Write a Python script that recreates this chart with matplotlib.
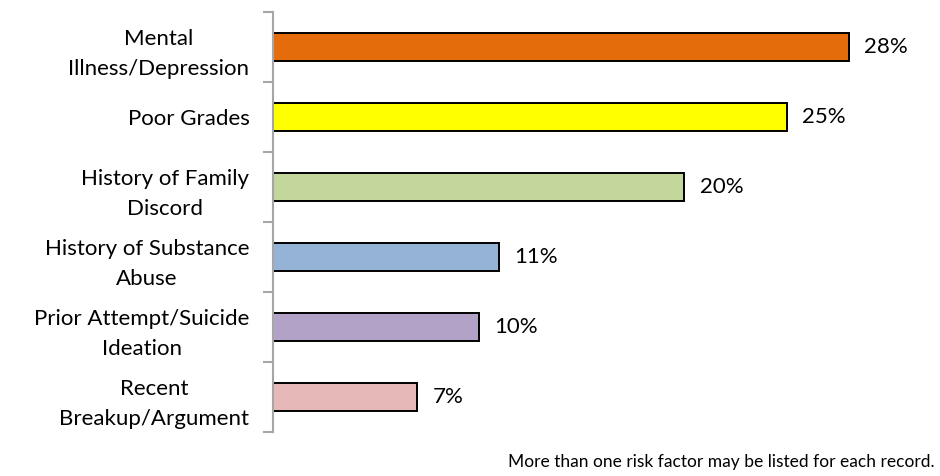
import matplotlib
matplotlib.use("Agg")
import matplotlib.pyplot as plt
from matplotlib.ticker import FixedLocator

plt.rcParams["font.family"] = ["Lato", "DejaVu Sans"]

categories = [
    "Mental\nIllness/Depression",
    "Poor Grades",
    "History of Family\nDiscord",
    "History of Substance\nAbuse",
    "Prior Attempt/Suicide\nIdeation",
    "Recent\nBreakup/Argument",
]
percents = [28, 25, 20, 11, 10, 7]
bar_colors = ["#E46C0A", "#FFFF00", "#C3D69B", "#95B3D7", "#B3A2C7", "#E6B9B8"]
footnote = "More than one risk factor may be listed for each record."

W, H = 940, 476
fig = plt.figure(figsize=(W / 100, H / 100), dpi=100)
ax = fig.add_axes([273 / W, (H - 432) / H, 627 / W, 420 / H])

n = len(categories)
ypos = list(range(n))
ax.barh(ypos, percents, height=0.41, color=bar_colors, edgecolor="black", linewidth=1.4)
ax.set_ylim(n - 0.5, -0.5)
ax.set_xlim(0, 30.5)

for y, v in zip(ypos, percents):
    ax.text(v + 0.75, y, f"{v}%", va="center", ha="left", fontsize=16)

for side in ["top", "right", "bottom"]:
    ax.spines[side].set_visible(False)
ax.spines["left"].set_color("#A6A6A6")
ax.spines["left"].set_linewidth(1.5)
ax.set_xticks([])

ax.yaxis.set_major_locator(FixedLocator([i - 0.5 for i in range(n + 1)]))
ax.yaxis.set_major_formatter(plt.NullFormatter())
ax.yaxis.set_minor_locator(FixedLocator(ypos))
ax.set_yticklabels(categories, minor=True, fontsize=16, multialignment="center",
                   linespacing=1.6)
ax.tick_params(axis="y", which="major", length=7, width=1.5, color="#A6A6A6")
ax.tick_params(axis="y", which="minor", length=0, pad=17)

fig.text(935 / W, 1 - 462 / H, footnote, ha="right", va="center", fontsize=12.5)

fig.savefig("out.png", dpi=100)
